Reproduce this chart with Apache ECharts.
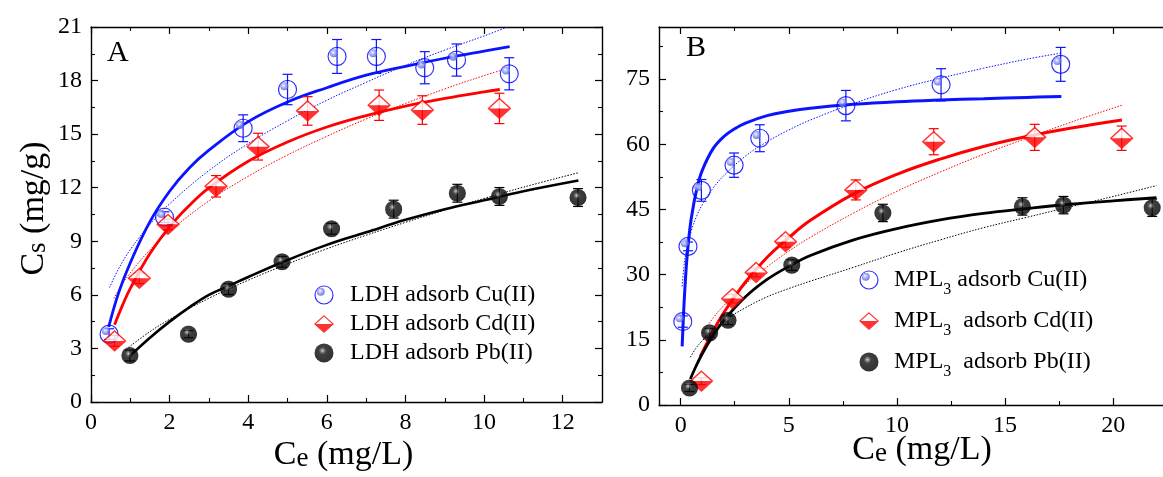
<!DOCTYPE html>
<html>
<head>
<meta charset="utf-8">
<script src="https://cdn.jsdelivr.net/npm/echarts@6/dist/echarts.min.js"></script>
<style>
html,body{margin:0;padding:0;background:#fff;}
#c{width:1163px;height:477px;}
</style>
</head>
<body>
<div id="c"></div>
<script>
// ---------------- DATA ----------------
// Panel A (LDH)
const ldhCuPts = [[0.46,3.8],[1.87,10.35],[3.87,15.33],[5.0,17.5],[6.26,19.35],[7.26,19.35],[8.49,18.72],[9.3,19.15],[10.64,18.38]];
const ldhCuErr = [0.3,0.3,0.75,0.85,0.95,0.95,0.9,0.9,0.9];
const ldhCdPts = [[0.6,3.42],[1.23,6.93],[1.96,9.95],[3.18,12.08],[4.25,14.3],[5.51,16.3],[7.33,16.62],[8.43,16.35],[10.39,16.44]];
const ldhCdErr = [0.3,0.3,0.3,0.6,0.75,0.8,0.85,0.8,0.85];
const ldhPbPts = [[0.99,2.6],[2.48,3.8],[3.5,6.32],[4.86,7.85],[6.12,9.7],[7.7,10.8],[9.32,11.69],[10.39,11.51],[12.39,11.45]];
const ldhPbErr = [0.3,0.2,0.3,0.3,0.3,0.5,0.5,0.5,0.5];

const ldhCuFitL = [[0.45,4.2],[0.7,6.1],[1,7.8],[1.5,10.1],[2,11.8],[2.5,13.1],[3,14.1],[4,15.7],[5,16.8],[6,17.6],[7,18.3],[8,18.8],[9,19.25],[10,19.65],[10.65,19.9]];
const ldhCuFitF = [[0.47,6.4],[0.7,7.45],[1,8.53],[1.5,9.95],[2,11.1],[3,12.96],[4,14.47],[5,15.75],[6,16.9],[7,17.9],[8,18.85],[9,19.71],[10,20.5],[10.6,21.0]];
const ldhCdFitL = [[0.6,4.33],[0.8,5.41],[1,6.36],[1.5,8.31],[2,9.81],[2.5,11.0],[3,11.99],[4,13.48],[5,14.56],[6,15.4],[7,16.04],[8,16.57],[9,17.0],[10,17.37],[10.4,17.5]];
const ldhCdFitF = [[0.58,5.8],[0.8,6.61],[1,7.23],[1.5,8.52],[2,9.56],[3,11.26],[4,12.64],[5,13.83],[6,14.88],[7,15.85],[8,16.72],[9,17.53],[10,18.28],[10.4,18.55]];
const ldhPbFitL = [[1,2.6],[1.5,3.6],[2,4.5],[2.5,5.3],[3,6.0],[3.5,6.5],[4,7.0],[5,7.95],[6,8.8],[7,9.5],[8,10.2],[9,10.8],[10,11.3],[11,11.8],[12.4,12.4]];
const ldhPbFitF = [[0.95,3.05],[1.5,3.94],[2,4.63],[3,5.81],[4,6.82],[5,7.73],[6,8.58],[7,9.34],[8,10.06],[9,10.74],[10,11.4],[11,12.03],[12.4,12.84]];

// Panel B (MPL3)
const mplCuPts = [[0.1,19.2],[0.34,36.5],[0.96,49.4],[2.47,55.2],[3.66,61.4],[7.64,68.9],[12.04,73.7],[17.57,78.4]];
const mplCuErr = [1.3,1.0,2.5,2.8,3.1,3.5,3.7,3.9];
const mplCdPts = [[0.96,5.5],[2.4,24.5],[3.49,30.5],[4.85,37.6],[8.1,49.5],[11.7,60.6],[16.37,61.6],[20.39,61.4]];
const mplCdErr = [0.8,1.0,1.0,1.3,2.3,3.0,3.0,2.8];
const mplPbPts = [[0.41,3.9],[1.34,16.6],[2.19,19.5],[5.14,32.2],[9.35,44.2],[15.8,45.7],[17.7,46.0],[21.8,45.4]];
const mplPbErr = [0.8,1.0,1.0,1.2,2.0,2.0,2.0,2.0];

const mplCuFitL = [[0.07,13.5],[0.15,22.5],[0.25,31],[0.35,37],[0.5,43.2],[0.75,49.8],[1,54],[1.5,59],[2,61.8],[2.5,63.6],[3,64.9],[4,66.6],[5,67.6],[6,68.3],[8,69.2],[10,69.8],[12,70.2],[14,70.5],[16,70.8],[17.6,71.0]];
const mplCuFitF = [[0.07,27.3],[0.15,31.7],[0.25,35.1],[0.5,40.2],[0.75,43.6],[1,46.1],[1.5,49.9],[2,52.8],[3,57.3],[4,60.6],[5,63.3],[6,65.6],[8,69.4],[10,72.6],[12,75.2],[14,77.5],[16,79.6],[17.6,81.0]];
const mplCdFitL = [[0.91,11.2],[1.5,17.0],[2,21.3],[3,28.3],[4,34.0],[5,38.5],[6,42.5],[8,48.6],[10,53.1],[12,56.6],[14,59.5],[16,61.8],[18,63.7],[20.4,65.6]];
const mplCdFitF = [[1.0,16.5],[1.5,20.0],[2,22.9],[3,27.8],[4,31.8],[5,35.4],[6,38.6],[8,44.2],[10,49.2],[12,53.6],[14,57.7],[16,61.4],[18,65.0],[20.4,69.0]];
const mplPbFitL = [[0.45,6.0],[0.7,8.8],[1,11.8],[1.5,16.0],[2,19.5],[3,24.9],[4,28.9],[5,31.9],[6,34.4],[8,38.0],[10,40.6],[12,42.6],[14,44.1],[16,45.2],[18,46.2],[20,47.0],[22,47.7]];
const mplPbFitF = [[0.45,11],[0.7,13],[1,14.8],[1.5,17.3],[2,19.4],[3,22.4],[4,24.9],[5,26.8],[6,28.5],[8,31.7],[10,35],[12,38],[14,40.8],[16,43.2],[18,45.6],[20,48],[22,50.5]];

// Ticks
const aXTicks = [0,2,4,6,8,10,12];
const aXMinor = [1,3,5,7,9,11];
const aYTicks = [0,3,6,9,12,15,18,21];
const aYMinor = [1.5,4.5,7.5,10.5,13.5,16.5,19.5];
const bXTicks = [0,5,10,15,20];
const bXMinor = [2.5,7.5,12.5,17.5];
const bYTicks = [0,15,30,45,60,75];
const bYMinor = [7.5,22.5,37.5,52.5,67.5,82.5];

const ldhNames = ['LDH adsorb Cu(II)','LDH adsorb Cd(II)','LDH adsorb Pb(II)'];
const mplNames = ['MPL3 adsorb Cu(II)','MPL3  adsorb Cd(II)','MPL3  adsorb Pb(II)'];

// ---------------- STYLE ----------------
const FONT = "'Liberation Serif', 'Times New Roman', serif";
const BLUE = '#0a14ff', RED = '#ff0000', BLACK = '#000000';

function svgURI(s){ return 'image://data:image/svg+xml;charset=utf-8,' + encodeURIComponent(s); }
const cuSym = svgURI('<svg xmlns="http://www.w3.org/2000/svg" width="40" height="40" viewBox="0 0 40 40"><defs><radialGradient id="g" cx="0.42" cy="0.4" r="0.6"><stop offset="0" stop-color="#ffffff"/><stop offset="0.35" stop-color="#aab1f4"/><stop offset="1" stop-color="#4e5be0"/></radialGradient></defs><circle cx="20" cy="20" r="18" fill="none" stroke="#0000ff" stroke-width="2.4"/><circle cx="13.5" cy="13.5" r="8" fill="url(#g)"/></svg>');
const cdSym = svgURI('<svg xmlns="http://www.w3.org/2000/svg" width="44" height="40" viewBox="0 0 44 40"><polygon points="22,2 42,20 2,20" fill="#ffffff"/><polygon points="2,20 42,20 22,38" fill="#ff0000"/><polygon points="22,2 42,20 22,38 2,20" fill="none" stroke="#ff0000" stroke-width="2.6"/></svg>');
const pbSym = svgURI('<svg xmlns="http://www.w3.org/2000/svg" width="40" height="40" viewBox="0 0 40 40"><defs><radialGradient id="b" cx="0.42" cy="0.38" r="0.62"><stop offset="0" stop-color="#e0e0e0"/><stop offset="0.1" stop-color="#7a7a7a"/><stop offset="0.32" stop-color="#101010"/><stop offset="1" stop-color="#000000"/></radialGradient></defs><circle cx="20" cy="20" r="19" fill="url(#b)"/></svg>');

function axisSet(g, pos, min, max, major, minor, withLabel, nameOpt) {
  const base = {
    gridIndex: g, type: 'value', min: min, max: max, position: pos,
    nameMoveOverlap: false,
    splitLine: {show: false},
    axisLine: {show: true, onZero: false, lineStyle: {color: '#000', width: 1.4}},
    axisTick: {show: true, inside: true, length: 7, customValues: major, lineStyle: {color: '#000', width: 1.2}},
    axisLabel: withLabel ? {show: true, customValues: major, color: '#000', fontFamily: FONT, fontSize: 24, margin: 9} : {show: false}
  };
  if (nameOpt) Object.assign(base, nameOpt);
  const minorAx = {
    gridIndex: g, type: 'value', min: min, max: max, position: pos,
    splitLine: {show: false},
    axisLine: {show: false, onZero: false},
    axisTick: {show: true, inside: true, length: 4, customValues: minor, lineStyle: {color: '#000', width: 1.1}},
    axisLabel: {show: false}
  };
  return [base, minorAx];
}

const titleRich = {
  a: {fontFamily: FONT, fontSize: 34, color: '#000', verticalAlign: 'bottom', lineHeight: 36},
  s: {fontFamily: FONT, fontSize: 27, color: '#000', verticalAlign: 'bottom', lineHeight: 30}
};

const xAxes = [].concat(
  axisSet(0, 'bottom', 0, 13, aXTicks, aXMinor, true, {
    name: '{a|C}{s|e}{a| (mg/L)}', nameLocation: 'middle', nameGap: 34,
    nameTextStyle: {rich: titleRich, padding: [0, 6, 0, 0]}
  }),
  axisSet(0, 'top', 0, 13, aXTicks, aXMinor, false),
  axisSet(1, 'bottom', -1, 22.3, bXTicks, bXMinor, true, {
    name: '{a|C}{s|e}{a| (mg/L)}', nameLocation: 'middle', nameGap: 26,
    nameTextStyle: {rich: titleRich, padding: [0, 0, 0, 22]}
  }),
  axisSet(1, 'top', -1, 22.3, bXTicks, bXMinor, false)
);
const yAxes = [].concat(
  axisSet(0, 'left', 0, 21, aYTicks, aYMinor, true, {
    name: '{a|C}{s|s}{a| (mg/g)}', nameLocation: 'middle', nameGap: 40,
    nameTextStyle: {rich: titleRich, padding: [0, 0, 0, 12]}
  }),
  axisSet(0, 'right', 0, 21, aYTicks, aYMinor, false),
  axisSet(1, 'left', 0, 87, bYTicks, bYMinor, true)
);
// indices: x: A bottom 0,1, A top 2,3, B bottom 4,5, B top 6,7
// y: A left 0,1, A right 2,3, B left 4,5

function scatterS(name, pts, sym, size, xi, yi) {
  return {name: name, type: 'scatter', xAxisIndex: xi, yAxisIndex: yi, data: pts,
    symbol: sym, symbolSize: size, z: 5, clip: false};
}
function errS(pts, errs, color, xi, yi) {
  return {type: 'custom', xAxisIndex: xi, yAxisIndex: yi, z: 4, silent: true, clip: false,
    data: pts.map((p, i) => [p[0], p[1] - errs[i], p[1] + errs[i]]),
    renderItem: function (params, api) {
      const x = api.value(0);
      const lo = api.coord([x, api.value(1)]);
      const hi = api.coord([x, api.value(2)]);
      const w = 5;
      const st = {stroke: color, lineWidth: 1.2};
      return {type: 'group', children: [
        {type: 'line', shape: {x1: lo[0], y1: lo[1], x2: hi[0], y2: hi[1]}, style: st},
        {type: 'line', shape: {x1: hi[0] - w, y1: hi[1], x2: hi[0] + w, y2: hi[1]}, style: st},
        {type: 'line', shape: {x1: lo[0] - w, y1: lo[1], x2: lo[0] + w, y2: lo[1]}, style: st}
      ]};
    }};
}
function lineS(pts, color, width, dotted, xi, yi) {
  return {type: 'line', xAxisIndex: xi, yAxisIndex: yi, data: pts, showSymbol: false, symbol: 'none',
    smooth: 0.4, z: 3, silent: true, clip: false,
    lineStyle: {color: color, width: width, type: dotted ? [1.5, 1.5] : 'solid'}};
}

const series = [
  // panel A
  lineS(ldhCuFitF, BLUE, 1, true, 0, 0),
  lineS(ldhCdFitF, RED, 1, true, 0, 0),
  lineS(ldhPbFitF, BLACK, 1, true, 0, 0),
  lineS(ldhCuFitL, BLUE, 2.8, false, 0, 0),
  lineS(ldhCdFitL, RED, 2.8, false, 0, 0),
  lineS(ldhPbFitL, BLACK, 2.6, false, 0, 0),
  errS(ldhCuPts, ldhCuErr, BLUE, 0, 0),
  errS(ldhCdPts, ldhCdErr, RED, 0, 0),
  errS(ldhPbPts, ldhPbErr, BLACK, 0, 0),
  scatterS(ldhNames[0], ldhCuPts, cuSym, [20, 20], 0, 0),
  scatterS(ldhNames[1], ldhCdPts, cdSym, [24, 22], 0, 0),
  scatterS(ldhNames[2], ldhPbPts, pbSym, [18, 18], 0, 0),
  // panel B
  lineS(mplCuFitF, BLUE, 1, true, 4, 4),
  lineS(mplCdFitF, RED, 1, true, 4, 4),
  lineS(mplPbFitF, BLACK, 1, true, 4, 4),
  lineS(mplCuFitL, BLUE, 3, false, 4, 4),
  lineS(mplCdFitL, RED, 3, false, 4, 4),
  lineS(mplPbFitL, BLACK, 2.8, false, 4, 4),
  errS(mplCuPts, mplCuErr, BLUE, 4, 4),
  errS(mplCdPts, mplCdErr, RED, 4, 4),
  errS(mplPbPts, mplPbErr, BLACK, 4, 4),
  scatterS(mplNames[0], mplCuPts, cuSym, [20, 20], 4, 4),
  scatterS(mplNames[1], mplCdPts, cdSym, [24, 22], 4, 4),
  scatterS(mplNames[2], mplPbPts, pbSym, [18, 18], 4, 4)
];

const option = {
  animation: false,
  backgroundColor: '#fff',
  grid: [
    {left: 91, top: 27, width: 511, bottom: 72},
    {left: 659, top: 27, right: 0, bottom: 72}
  ],
  xAxis: xAxes,
  yAxis: yAxes,
  legend: [
    {
      orient: 'vertical', left: 314, top: 283, padding: 0, itemGap: 5,
      itemWidth: 20, itemHeight: 20, selectedMode: false,
      data: [
        {name: ldhNames[0], icon: cuSym},
        {name: ldhNames[1], icon: cdSym},
        {name: ldhNames[2], icon: pbSym}
      ],
      textStyle: {fontFamily: FONT, fontSize: 24, color: '#000', lineHeight: 24, padding: [0, 0, 0, 11]}
    },
    {
      orient: 'vertical', left: 859, top: 265, padding: 0, itemGap: 8,
      itemWidth: 20, itemHeight: 20, selectedMode: false,
      data: [
        {name: mplNames[0], icon: cuSym},
        {name: mplNames[1], icon: cdSym},
        {name: mplNames[2], icon: pbSym}
      ],
      formatter: function (n) { return n.replace('MPL3', 'MPL{sub|3}'); },
      textStyle: {fontFamily: FONT, fontSize: 24, color: '#000', lineHeight: 30, padding: [0, 0, 0, 10],
        rich: {sub: {fontFamily: FONT, fontSize: 16, color: '#000', padding: [20, 0, 0, 0]}}}
    }
  ],
  graphic: [
    {type: 'text', left: 107, top: 38, style: {text: 'A', font: "30px 'Liberation Serif'", fill: '#000'}},
    {type: 'text', left: 686, top: 33, style: {text: 'B', font: "30px 'Liberation Serif'", fill: '#000'}}
  ],
  series: series
};

const chart = echarts.init(document.getElementById('c'), null, {renderer: 'canvas'});
chart.setOption(option);
</script>
</body>
</html>
